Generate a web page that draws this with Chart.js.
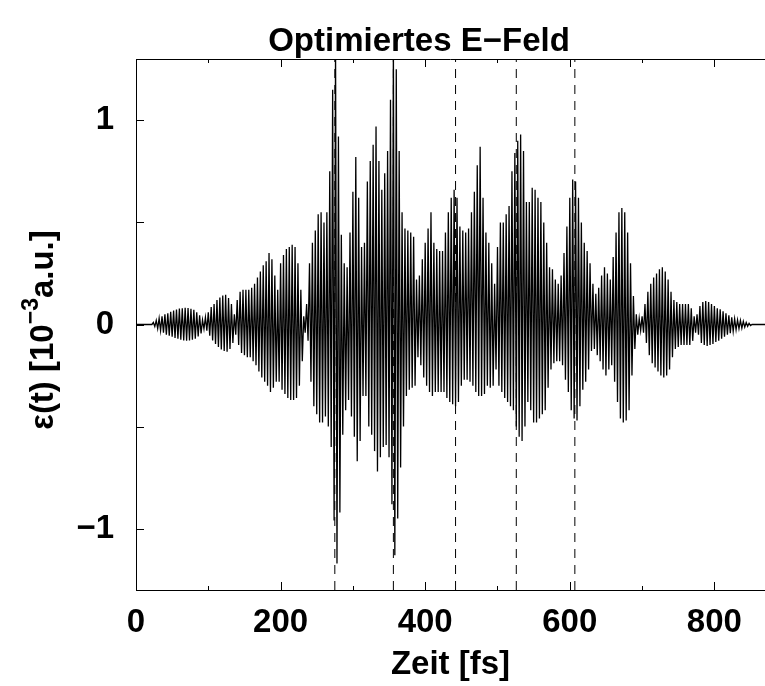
<!DOCTYPE html>
<html>
<head>
<meta charset="utf-8">
<script src="https://cdn.jsdelivr.net/npm/chart.js@4/dist/chart.umd.min.js"></script>
<style>
  html, body { margin: 0; padding: 0; background: #fff; overflow: hidden; }
  canvas { display: block; }
</style>
</head>
<body>
<canvas id="fieldChart" width="765" height="686"></canvas>
<script>
// ── Data ─────────────────────────────────
// field: upper / lower peak of each carrier
// cycle, one cycle every 4 fs (upper peak at t, lower peak at t + 2)

const cycleStart = 0;
const cycleStep  = 4;

const upperPeaks = [
  0, 0, 0, 0, 0, 0, 0.01, 0.02, 0.03, 0.04,
  0.05, 0.055, 0.062, 0.068, 0.073, 0.078, 0.08, 0.082, 0.081, 0.077,
  0.072, 0.06, 0.045, 0.022, 0.035, 0.06, 0.085, 0.1, 0.12, 0.132,
  0.142, 0.145, 0.13, 0.1, 0.05, 0.12, 0.16, 0.17, 0.17, 0.17,
  0.18, 0.2, 0.23, 0.26, 0.29, 0.31, 0.35, 0.32, 0.24, 0.17,
  0.3, 0.34, 0.37, 0.38, 0.39, 0.38, 0.3, 0.17, 0.04, 0.1,
  0.3, 0.4, 0.46, 0.54, 0.55, 0.5, 0.55, 0.75, 1.15, 1.35,
  0.92, 0.44, 0.3, 0.28, 0.45, 0.65, 0.82, 0.62, 0.38, 0.4,
  0.7, 0.8, 0.88, 0.97, 0.8, 0.66, 0.74, 0.85, 1.1, 1.35,
  1.25, 0.85, 0.55, 0.47, 0.46, 0.45, 0.43, 0.22, 0.24, 0.32,
  0.4, 0.47, 0.55, 0.4, 0.37, 0.36, 0.36, 0.45, 0.55, 0.62,
  0.66, 0.62, 0.48, 0.46, 0.45, 0.47, 0.55, 0.65, 0.78, 0.87,
  0.62, 0.45, 0.4, 0.3, 0.2, 0.38, 0.5, 0.5, 0.54, 0.58,
  0.75, 0.84, 0.9, 0.93, 0.85, 0.6, 0.6, 0.67, 0.66, 0.62,
  0.6, 0.5, 0.4, 0.28, 0.27, 0.22, 0.2, 0.24, 0.35, 0.48,
  0.62, 0.71, 0.7, 0.62, 0.5, 0.4, 0.36, 0.3, 0.2, 0.15,
  0.18, 0.24, 0.28, 0.25, 0.22, 0.33, 0.45, 0.55, 0.57, 0.55,
  0.45, 0.3, 0.14, 0.05, 0.03, 0.04, 0.1, 0.16, 0.2, 0.23,
  0.25, 0.27, 0.28, 0.26, 0.22, 0.16, 0.12, 0.11, 0.1, 0.1,
  0.1, 0.1, 0.08, 0.04, 0.05, 0.09, 0.11, 0.115, 0.11, 0.1,
  0.09, 0.08, 0.075, 0.065, 0.055, 0.045, 0.035, 0.028, 0.022, 0.02,
  0.015, 0.01, 0.006, 0, 0, 0, 0, 0
];

const lowerPeaks = [
  0, 0, 0, 0, 0, 0, -0.01, -0.02, -0.03, -0.04,
  -0.05, -0.055, -0.06, -0.066, -0.07, -0.075, -0.078, -0.079, -0.078, -0.074,
  -0.07, -0.058, -0.044, -0.022, -0.03, -0.055, -0.078, -0.095, -0.11, -0.122,
  -0.13, -0.133, -0.12, -0.09, -0.05, -0.1, -0.14, -0.15, -0.16, -0.16,
  -0.18, -0.2, -0.23, -0.26, -0.28, -0.3, -0.33, -0.31, -0.28, -0.28,
  -0.32, -0.34, -0.36, -0.37, -0.37, -0.36, -0.3, -0.18, -0.04, -0.08,
  -0.28, -0.4, -0.44, -0.48, -0.48, -0.45, -0.5, -0.6, -0.96, -1.17,
  -0.92, -0.54, -0.42, -0.37, -0.45, -0.55, -0.67, -0.57, -0.35, -0.35,
  -0.5, -0.54, -0.62, -0.72, -0.65, -0.6, -0.59, -0.65, -0.88, -1.13,
  -0.95, -0.7, -0.5, -0.35, -0.32, -0.31, -0.3, -0.16, -0.2, -0.26,
  -0.3, -0.33, -0.35, -0.33, -0.33, -0.33, -0.33, -0.36, -0.38, -0.39,
  -0.4, -0.38, -0.3, -0.27, -0.27, -0.28, -0.3, -0.33, -0.35, -0.35,
  -0.34, -0.3, -0.31, -0.3, -0.22, -0.3, -0.33, -0.36, -0.38, -0.4,
  -0.42, -0.5, -0.55, -0.57, -0.5, -0.38, -0.42, -0.48, -0.48, -0.46,
  -0.44, -0.42, -0.31, -0.22, -0.19, -0.18, -0.18, -0.2, -0.27, -0.33,
  -0.42, -0.46, -0.47, -0.4, -0.32, -0.28, -0.22, -0.13, -0.12, -0.15,
  -0.18, -0.22, -0.25, -0.22, -0.2, -0.28, -0.38, -0.46, -0.48, -0.47,
  -0.42, -0.25, -0.12, -0.05, -0.03, -0.04, -0.09, -0.15, -0.19, -0.21,
  -0.23, -0.25, -0.26, -0.25, -0.22, -0.16, -0.12, -0.11, -0.1, -0.1,
  -0.1, -0.1, -0.08, -0.04, -0.05, -0.09, -0.1, -0.105, -0.1, -0.095,
  -0.085, -0.08, -0.07, -0.06, -0.05, -0.042, -0.033, -0.026, -0.02, -0.018,
  -0.013, -0.009, -0.005, 0, 0, 0, 0, 0
];

// dashed marker times [fs]
const markerTimes = [275, 356, 442, 526, 607];

// axes
const xMin = 0, xMax = 870;
const yMin = -1.3, yMax = 1.3;
const xTickMarks = [0, 100, 200, 300, 400, 500, 600, 700, 800];
const xLabelStep = 200;
const yTickMarks = [-1, -0.5, 0, 0.5, 1];
const yLabelStep = 1;

const titleText = 'Optimiertes E\u2212Feld';
const xTitle    = 'Zeit [fs]';
const yTitleParts = ['\u03b5(t) [10', '\u22123', 'a.u.]'];

// ── Build datasets ───────────────────────

const FONT = '"Liberation Sans", Arial, Helvetica, sans-serif';

const fieldPoints = [];
upperPeaks.forEach((u, i) => {
  const t = cycleStart + i * cycleStep;
  fieldPoints.push({ x: t, y: u });
  fieldPoints.push({ x: t + cycleStep / 2, y: lowerPeaks[i] });
});
fieldPoints.push({ x: xMax, y: 0 });

const markerSets = markerTimes.map(t => ({
  data: [{ x: t, y: yMin }, { x: t, y: yMax }],
  borderColor: '#000',
  borderWidth: 1,
  borderDash: [9, 7],
  pointRadius: 0,
  order: 2
}));

// ── Frame, inward ticks, titles ──────────

const framePlugin = {
  id: 'framePlugin',
  afterDraw(chart) {
    const { ctx, chartArea: a, scales: { x, y } } = chart;
    ctx.save();

    ctx.strokeStyle = '#000';
    ctx.lineWidth = 1;
    ctx.beginPath();
    ctx.moveTo(a.left, a.top + 0.5);
    ctx.lineTo(a.right, a.top + 0.5);
    xTickMarks.forEach(v => {
      const px = Math.round(x.getPixelForValue(v)) + 0.5;
      const len = v % xLabelStep === 0 ? 8 : 4;
      ctx.moveTo(px, a.bottom);
      ctx.lineTo(px, a.bottom - len);
      ctx.moveTo(px, a.top);
      ctx.lineTo(px, a.top + len);
    });
    yTickMarks.forEach(v => {
      const py = Math.round(y.getPixelForValue(v)) + 0.5;
      ctx.moveTo(a.left, py);
      ctx.lineTo(a.left + 8, py);
    });
    ctx.stroke();

    // chart title
    ctx.fillStyle = '#000';
    ctx.font = `bold 33px ${FONT}`;
    ctx.textAlign = 'center';
    ctx.textBaseline = 'alphabetic';
    ctx.fillText(titleText, 419, 51);

    // y title with superscript exponent
    const big = `bold 33px ${FONT}`;
    const small = `bold 23px ${FONT}`;
    ctx.font = big;
    const w0 = ctx.measureText(yTitleParts[0]).width;
    const w2 = ctx.measureText(yTitleParts[2]).width;
    ctx.font = small;
    const w1 = ctx.measureText(yTitleParts[1]).width;
    const total = w0 + w1 + w2;

    ctx.translate(53, 330);
    ctx.rotate(-Math.PI / 2);
    ctx.textAlign = 'left';
    let cx = -total / 2;
    ctx.font = big;
    ctx.fillText(yTitleParts[0], cx, 0);
    cx += w0;
    ctx.font = small;
    ctx.fillText(yTitleParts[1], cx, -15);
    cx += w1;
    ctx.font = big;
    ctx.fillText(yTitleParts[2], cx, 0);

    ctx.restore();
  }
};

// ── Chart Setup ──────────────────────────

const ctx = document.getElementById('fieldChart').getContext('2d');
const chart = new Chart(ctx, {
  type: 'line',
  data: {
    datasets: [
      {
        data: fieldPoints,
        borderColor: '#000',
        borderWidth: 1.3,
        pointRadius: 0,
        tension: 0,
        order: 1
      },
      ...markerSets
    ]
  },
  options: {
    responsive: false,
    animation: false,
    devicePixelRatio: 1,
    layout: { padding: { top: 59, right: 0, bottom: 0, left: 0 } },
    plugins: {
      legend: { display: false },
      tooltip: { enabled: false }
    },
    scales: {
      x: {
        type: 'linear',
        min: xMin,
        max: xMax,
        afterFit: s => { s.height = 96; },
        grid: { display: false, drawTicks: false },
        border: { display: true, color: '#000', width: 1 },
        ticks: {
          stepSize: xLabelStep,
          includeBounds: false,
          padding: 13,
          maxRotation: 0,
          color: '#000',
          font: { family: FONT, size: 33, weight: 'bold' }
        },
        title: {
          display: true,
          text: xTitle,
          color: '#000',
          padding: { top: 0, bottom: 1 },
          font: { family: FONT, size: 33, weight: 'bold' }
        }
      },
      y: {
        min: yMin,
        max: yMax,
        afterFit: s => { s.width = 136; },
        grid: { display: false, drawTicks: false },
        border: { display: true, color: '#000', width: 1 },
        ticks: {
          stepSize: yLabelStep,
          includeBounds: false,
          padding: 22,
          color: '#000',
          font: { family: FONT, size: 33, weight: 'bold' },
          callback: v => String(v).replace('-', '\u2212')
        }
      }
    }
  },
  plugins: [framePlugin]
});
</script>
</body>
</html>
